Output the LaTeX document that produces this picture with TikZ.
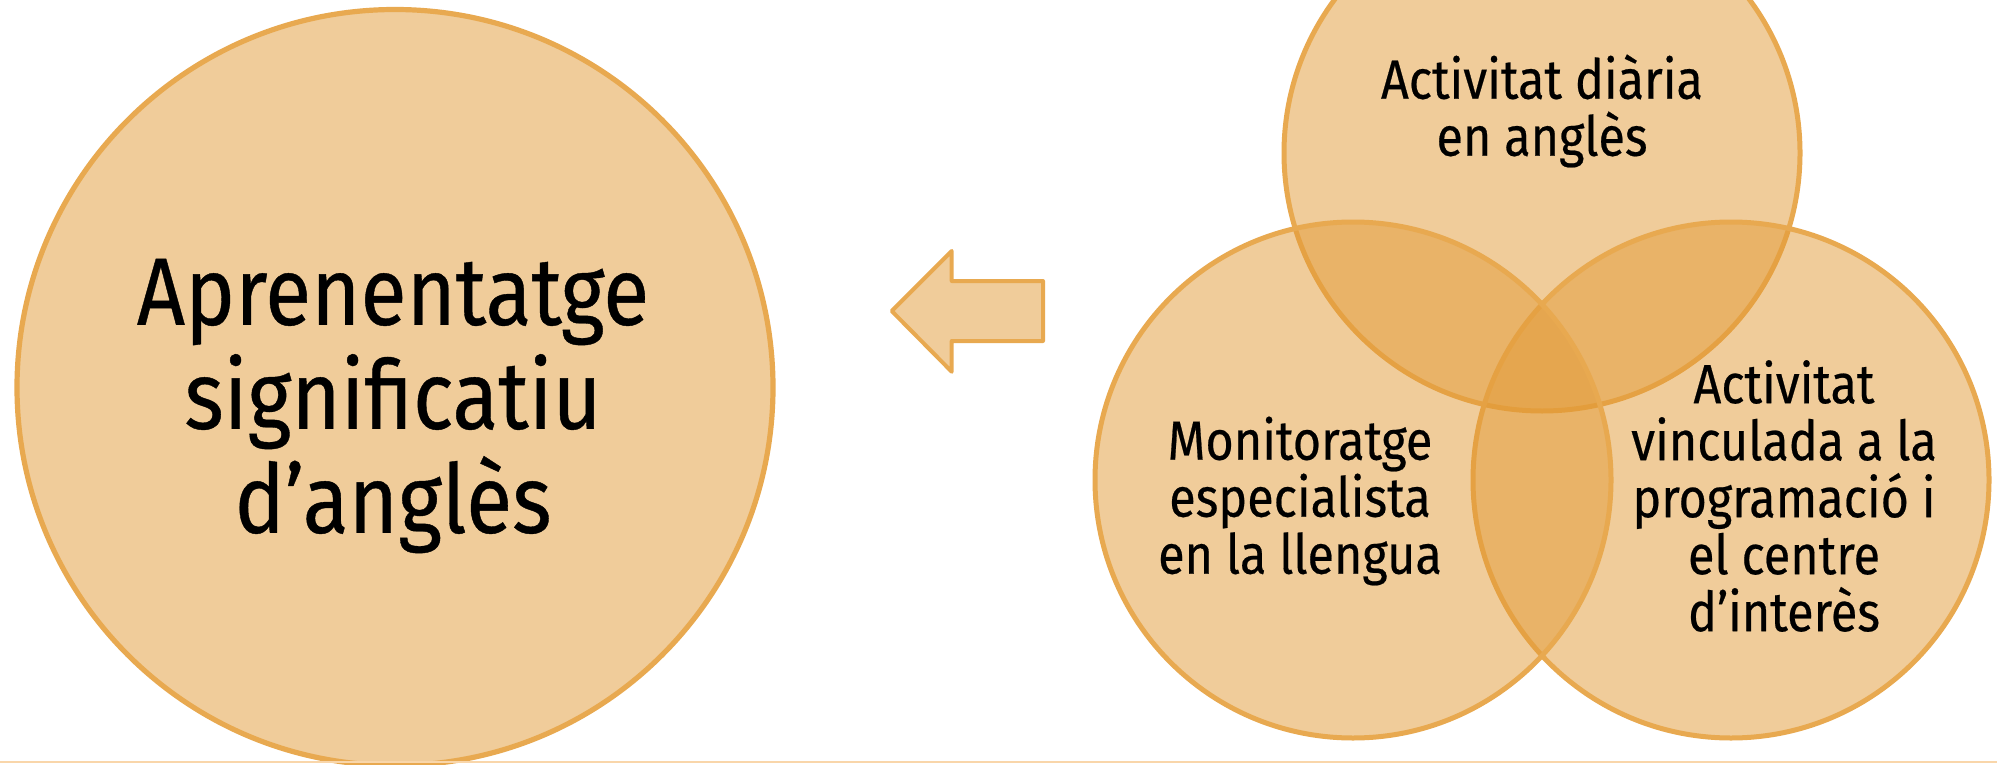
\documentclass[tikz,border=0pt]{standalone}
\usepackage{fontspec}
\setmainfont[FakeStretch=0.88,FakeBold=0.4]{Fira Sans}
\usepackage{tikz}
\definecolor{vennfill}{RGB}{227,155,55}
\definecolor{vennline}{RGB}{232,169,80}
\definecolor{rulecol}{RGB}{249,214,170}
\tikzset{big node/.style={circle,draw=vennline,line width=2.6pt,fill=vennfill,fill opacity=0.5,minimum size=378pt,inner sep=0pt},
	venn node/.style={circle,draw=vennline,line width=2.5pt,fill=vennfill,fill opacity=0.5,minimum size=258pt,inner sep=0pt},
	big text/.style={align=center,font=\fontsize{47.9}{52}\selectfont},
	venn text/.style={align=center,font=\fontsize{27.6}{28.5}\selectfont},
	arrow box/.style={draw=vennline,line width=2pt,line join=round,fill=vennfill,fill opacity=0.5},
}

\begin{document}
\begin{tikzpicture}[x=0.5pt,y=-0.5pt]
		\useasboundingbox (0,0) rectangle (1997,765);
		\fill[white] (0,0) rectangle (1997,765);
		
		\node[big node] (goal) at (395,387.5) {};
		
		\node[venn node] (daily) at (1542,153) {};
		\node[venn node] (project) at (1731,480) {};
		\node[venn node] (tutor) at (1353,480) {};
		
		\draw[arrow box] (1043,281) -- (951.7,281) -- (951.7,251) -- (891.7,311)
		-- (951.7,371.7) -- (951.7,341) -- (1043,341) -- cycle;
		%%
		\node[big text] (goaltext) at (393,406) {Aprenentatge\\significatiu\\d’anglès};
		\node[venn text] (dailytext) at (1542,111) {Activitat diària\\en anglès};
		\node[venn text] (tutortext) at (1300,501) {Monitoratge\\especialista\\en la llengua};
		\node[venn text] (projecttext) at (1784,496) {Activitat\\vinculada a la\\programació i\\el centre\\d’interès};
		
		\coordinate (ruleL) at (0,761.7);
		\coordinate (ruleR) at (1997,761.7);
		\draw[rulecol,line width=1pt] (ruleL) -- (ruleR);
	\end{tikzpicture}
\end{document}
